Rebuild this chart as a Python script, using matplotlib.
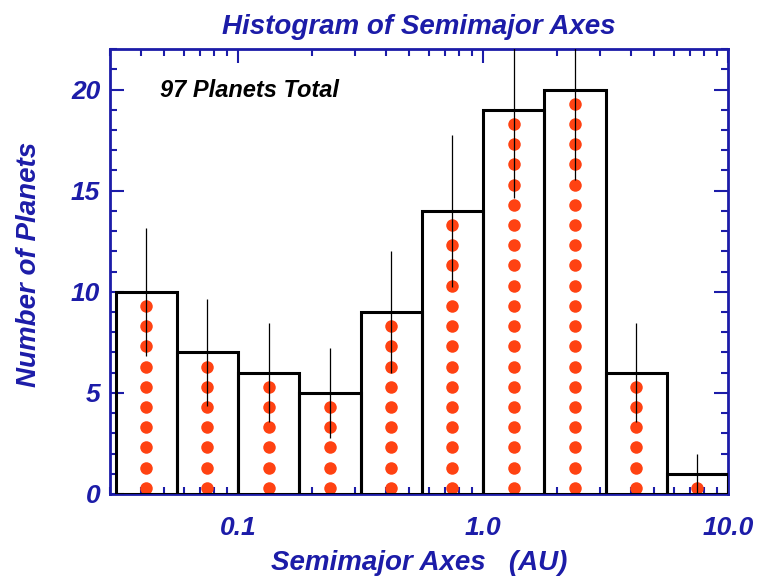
import numpy as np
import matplotlib
matplotlib.use('Agg')
import matplotlib.pyplot as plt
from matplotlib.ticker import FixedLocator, FixedFormatter, NullFormatter, MultipleLocator

# histogram of planet semimajor axes (bins of 0.25 dex)
bin_edges = [0.0316, 0.0562, 0.1, 0.178, 0.316, 0.562, 1.0, 1.78, 3.16, 5.62, 10.0]
counts = [10, 7, 6, 5, 9, 14, 19, 20, 6, 1]
x_ticks = [0.1, 1.0, 10.0]
x_tick_labels = ['0.1', '1.0', '10.0']
y_ticks = [0, 5, 10, 15, 20]

blue = '#1c1ca8'
dot_color = '#ff4212'
font = dict(family='Liberation Sans', weight='bold', style='italic')

fig = plt.figure(figsize=(7.6, 5.85), dpi=100)
ax = fig.add_axes([0.1447, 0.1556, 0.958 - 0.1447, 0.916 - 0.1556])
ax.set_xscale('log')

edges = np.array(bin_edges)
lefts = edges[:-1]
widths = edges[1:] - edges[:-1]
centers = np.sqrt(edges[:-1] * edges[1:])

# one dot per planet
for c, n in zip(centers, counts):
    ys = np.arange(n) + 0.3
    ax.plot([c] * n, ys, 'o', color=dot_color, ms=9, mec='none', zorder=2)

# poisson error bars
err = np.sqrt(counts)
ax.vlines(centers, np.array(counts) - err, np.array(counts) + err,
          color='black', lw=0.9, zorder=3)

ax.bar(lefts, counts, width=widths, align='edge', fill=False,
       edgecolor='black', linewidth=2.2, zorder=4)

ax.set_xlim(0.03, 10.0)
ax.set_ylim(0, 22)

ax.xaxis.set_major_locator(FixedLocator(x_ticks))
ax.xaxis.set_major_formatter(FixedFormatter(x_tick_labels))
ax.xaxis.set_minor_formatter(NullFormatter())
ax.yaxis.set_major_locator(FixedLocator(y_ticks))
ax.yaxis.set_minor_locator(MultipleLocator(1))

ax.tick_params(which='both', direction='in', top=True, right=True, color=blue)
ax.tick_params(which='major', length=10, width=1.5)
ax.tick_params(which='minor', length=5, width=1.5)
ax.tick_params(axis='both', labelsize=19, labelcolor=blue)
ax.tick_params(axis='x', pad=16)
ax.tick_params(axis='y', pad=7)
for lbl in ax.get_xticklabels() + ax.get_yticklabels():
    lbl.set_fontfamily('Liberation Sans')
    lbl.set_fontweight('bold')
    lbl.set_fontstyle('italic')

for sp in ax.spines.values():
    sp.set_color(blue)
    sp.set_linewidth(2)

ax.set_title('Histogram of Semimajor Axes', color=blue, fontsize=20, pad=11, **font)
ax.set_xlabel('Semimajor Axes   (AU)', color=blue, fontsize=20, labelpad=7, **font)
ax.set_ylabel('Number of Planets', color=blue, fontsize=20, **font)
ax.yaxis.set_label_coords(-0.11, 0.517)
ax.text(0.081, 0.908, '97 Planets Total', transform=ax.transAxes, color='black',
        fontsize=17, va='center', **font)

fig.savefig('out.png', dpi=100)
